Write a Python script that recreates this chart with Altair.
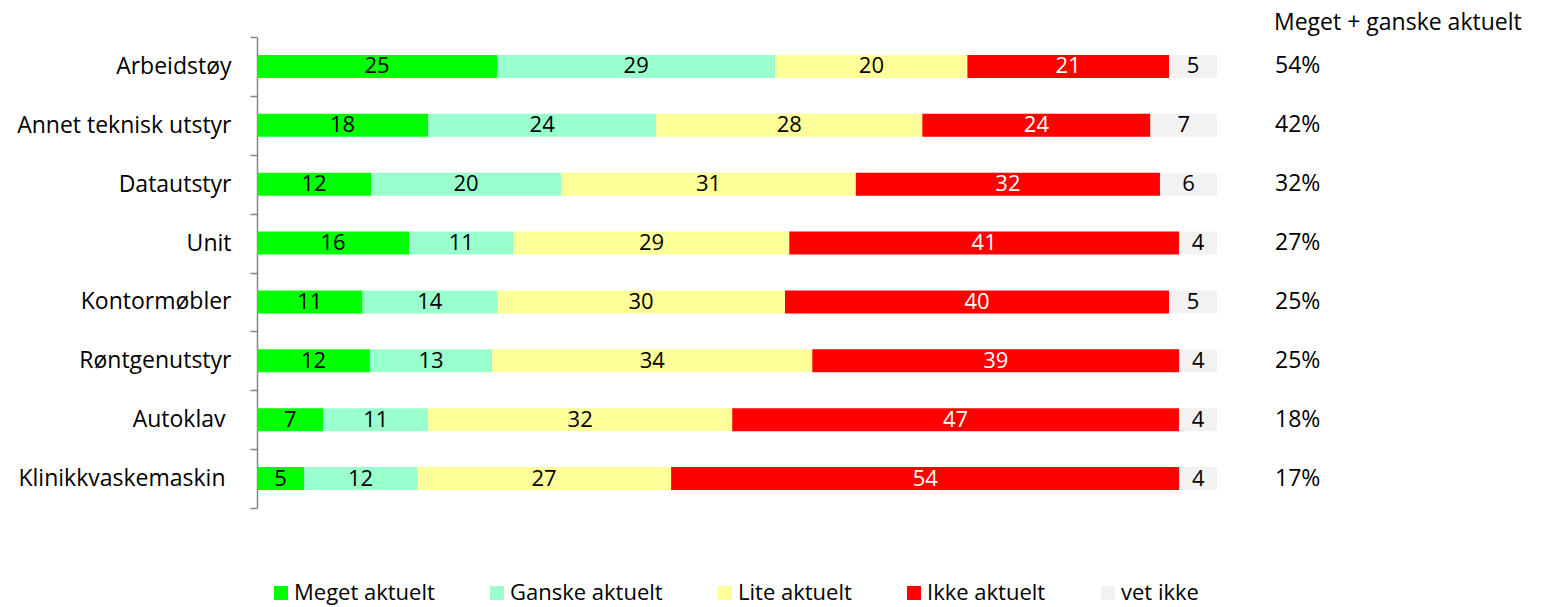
import altair as alt
import pandas as pd

categories = ["Arbeidstøy", "Annet teknisk utstyr", "Datautstyr", "Unit",
              "Kontormøbler", "Røntgenutstyr", "Autoklav", "Klinikkvaskemaskin"]
# labels that carry a trailing space in the source chart
trailing_space = ["Autoklav", "Klinikkvaskemaskin"]
series = ["Meget aktuelt", "Ganske aktuelt", "Lite aktuelt", "Ikke aktuelt", "vet ikke"]
colors = ["#00FF00", "#99FFCC", "#FFFF99", "#FF0000", "#F2F2F2"]

meget = [25, 18, 12, 16, 11, 12, 7, 5]
ganske = [29, 24, 20, 11, 14, 13, 11, 12]
lite = [20, 28, 31, 29, 30, 34, 32, 27]
ikke = [21, 24, 32, 41, 40, 39, 47, 54]
vet = [5, 7, 6, 4, 5, 4, 4, 4]
sum_pct = [54, 42, 32, 27, 25, 25, 18, 17]
header = "Meget + ganske aktuelt"

FONT = "Open Sans"
FS = 23      # category labels, percentages, header
FS_BAR = 22  # numbers inside bars
FS_LEG = 22  # legend

rows = []
for s_i, (s, vals) in enumerate(zip(series, [meget, ganske, lite, ikke, vet])):
    for c, v in zip(categories, vals):
        rows.append({"cat": c, "series": s, "order": s_i, "value": v})
df = pd.DataFrame(rows)

pct_df = pd.DataFrame({"cat": categories, "label": [f"{p}%" for p in sum_pct]})
head_df = pd.DataFrame({"label": [header]})

test_expr = "indexof(" + str(trailing_space) + ", datum.value) >= 0"

yenc = alt.Y("cat:N", sort=categories, title=None,
             scale=alt.Scale(paddingInner=0, paddingOuter=0),
             axis=alt.Axis(domainColor="#868686", tickColor="#868686", tickSize=7,
                           tickBand="extent",
                           labelPadding={"condition": {"test": test_expr, "value": 25}, "value": 19},
                           labelFont=FONT,
                           labelFontSize=FS, labelColor="black", domainWidth=1.5,
                           tickWidth=1.5, labelLimit=400))

base = alt.Chart(df).transform_stack(
    stack="value", as_=["v0", "v1"], groupby=["cat"],
    sort=[alt.SortField("order", "ascending")], offset="normalize"
).transform_calculate(mid="(datum.v0 + datum.v1) / 2")

xscale = alt.Scale(domain=[0, 1], nice=False, zero=True)

bars = base.mark_bar(height={"band": 0.39}).encode(
    y=yenc,
    x=alt.X("v0:Q", scale=xscale, axis=None),
    x2="v1:Q",
    color=alt.Color("series:N", scale=alt.Scale(domain=series, range=colors),
                    legend=alt.Legend(title=None, orient="none", direction="horizontal",
                                      legendX=13, legendY=545, columns=5,
                                      symbolType="square", symbolSize=196,
                                      symbolStrokeWidth=0, symbolOpacity=1,
                                      labelFont=FONT, labelFontSize=FS_LEG, labelColor="black",
                                      labelOffset=2, columnPadding=51, padding=0,
                                      labelLimit=400)),
)

text = base.mark_text(font=FONT, fontSize=FS_BAR, baseline="middle").encode(
    y=alt.Y("cat:N", sort=categories),
    x=alt.X("mid:Q", scale=xscale),
    text="value:Q",
    color=alt.condition(alt.datum.series == "Ikke aktuelt", alt.value("white"), alt.value("black")),
)

pct = alt.Chart(pct_df).mark_text(font=FONT, fontSize=FS, align="left", baseline="middle",
                                  color="black").encode(
    y=alt.Y("cat:N", sort=categories),
    x=alt.value(1018),
    text="label:N",
)

head = alt.Chart(head_df).mark_text(font=FONT, fontSize=FS, align="left", baseline="alphabetic",
                                    color="black").encode(
    x=alt.value(1017),
    y=alt.value(-7),
    text="label:N",
)

chart = alt.layer(bars, text, pct, head).properties(
    width=960, height=471,
    autosize=alt.AutoSizeParams(type="none"),
    padding={"left": 249, "top": 29, "right": 318, "bottom": 98},
    background="white",
).configure_view(strokeWidth=0)

chart.save("out.html", embed_options={"renderer": "svg", "actions": False})
